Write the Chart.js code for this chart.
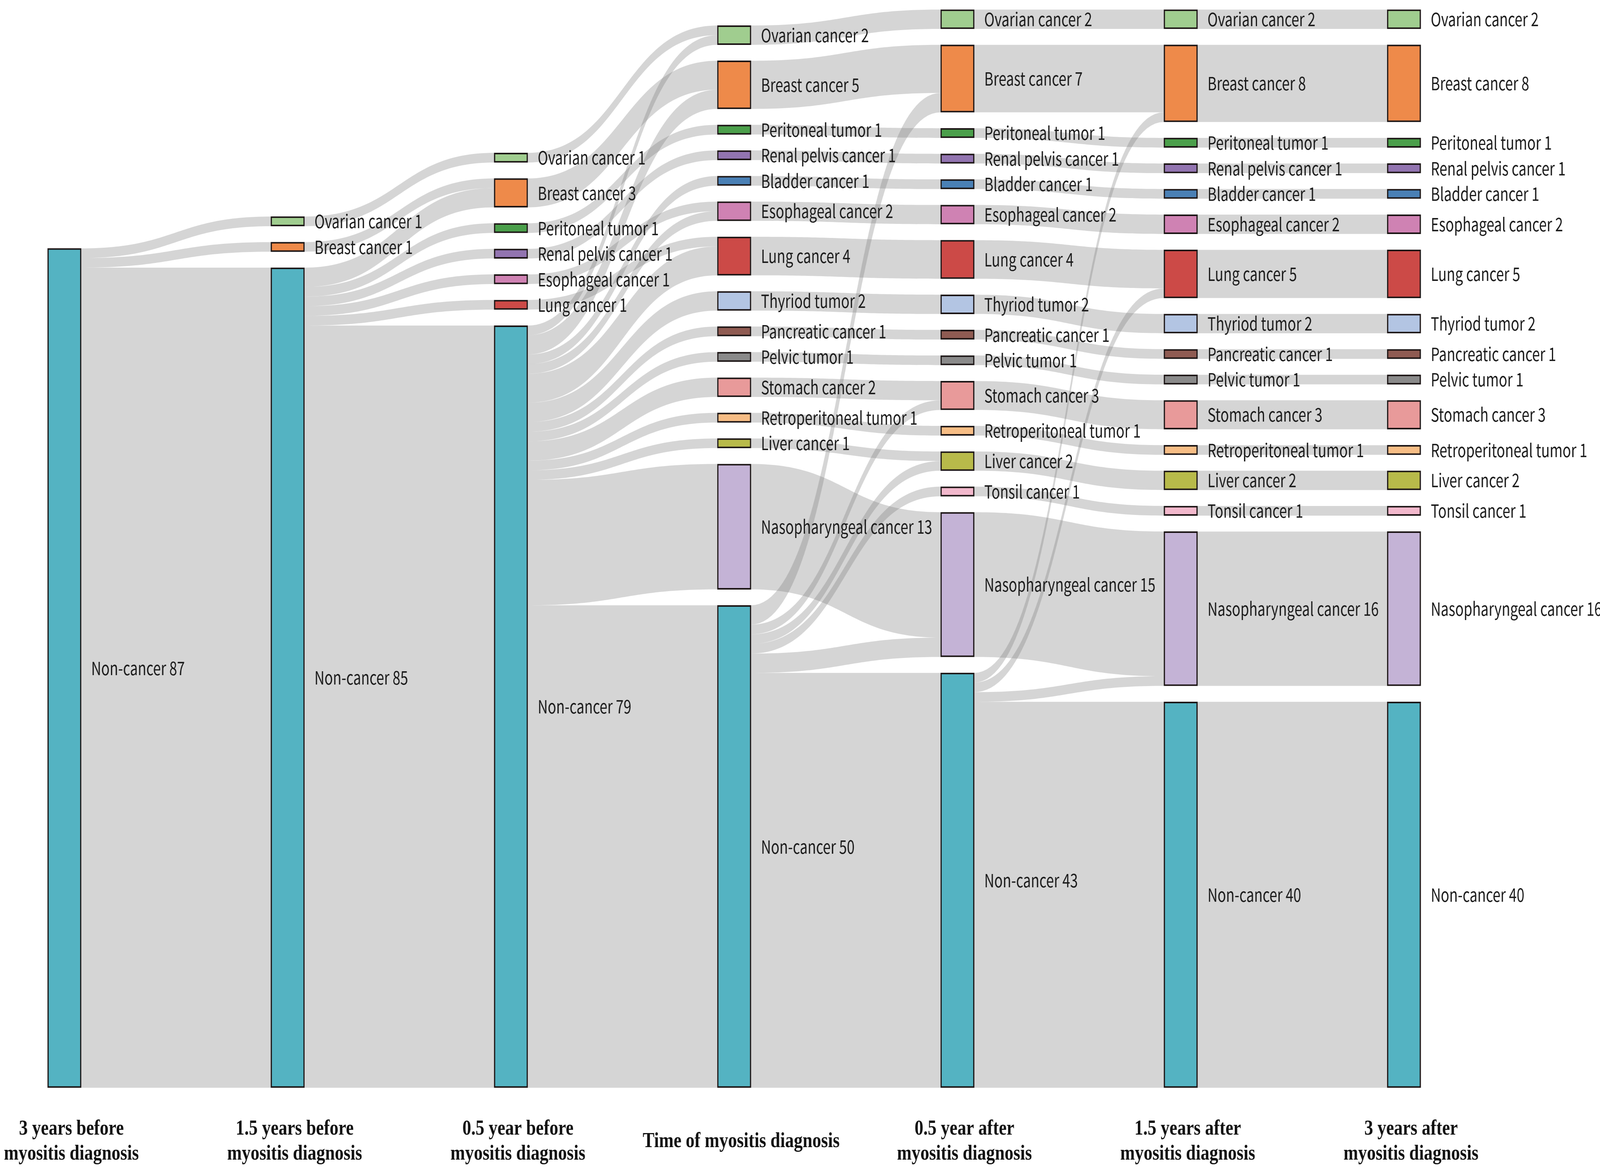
<!DOCTYPE html>
<html>
<head>
<meta charset="utf-8">
<script src="https://cdn.jsdelivr.net/npm/chart.js@4.4.1/dist/chart.umd.min.js"></script>
<style>
  html, body { margin: 0; padding: 0; background: #fff; overflow: hidden; }
</style>
</head>
<body>
<!-- drawn at 5020 x 2992, shown at whatever size the window is -->
<canvas id="sankey" width="5020" height="2992" style="display:block;width:100vw;height:100vh"></canvas>
<script>
// time points (bottom titles)
const stages = [
  ['3 years before', 'myositis diagnosis'],
  ['1.5 years before', 'myositis diagnosis'],
  ['0.5 year before', 'myositis diagnosis'],
  'Time of myositis diagnosis',
  ['0.5 year after', 'myositis diagnosis'],
  ['1.5 years after', 'myositis diagnosis'],
  ['3 years after', 'myositis diagnosis']
];

const categories = [
  'Ovarian cancer', 'Breast cancer', 'Peritoneal tumor', 'Renal pelvis cancer',
  'Bladder cancer', 'Esophageal cancer', 'Lung cancer', 'Thyriod tumor',
  'Pancreatic cancer', 'Pelvic tumor', 'Stomach cancer', 'Retroperitoneal tumor',
  'Liver cancer', 'Tonsil cancer', 'Nasopharyngeal cancer', 'Non-cancer'
];

// patients per category at each time point
const ovarian         = [0, 1, 1, 2, 2, 2, 2];
const breast          = [0, 1, 3, 5, 7, 8, 8];
const peritoneal      = [0, 0, 1, 1, 1, 1, 1];
const renalPelvis     = [0, 0, 1, 1, 1, 1, 1];
const bladder         = [0, 0, 0, 1, 1, 1, 1];
const esophageal      = [0, 0, 1, 2, 2, 2, 2];
const lung            = [0, 0, 1, 4, 4, 5, 5];
const thyroid         = [0, 0, 0, 2, 2, 2, 2];
const pancreatic      = [0, 0, 0, 1, 1, 1, 1];
const pelvic          = [0, 0, 0, 1, 1, 1, 1];
const stomach         = [0, 0, 0, 2, 3, 3, 3];
const retroperitoneal = [0, 0, 0, 1, 1, 1, 1];
const liver           = [0, 0, 0, 1, 2, 2, 2];
const tonsil          = [0, 0, 0, 0, 1, 1, 1];
const nasopharyngeal  = [0, 0, 0, 13, 15, 16, 16];
const nonCancer       = [87, 85, 79, 50, 43, 40, 40];

const counts = [ovarian, breast, peritoneal, renalPelvis, bladder, esophageal, lung, thyroid,
  pancreatic, pelvic, stomach, retroperitoneal, liver, tonsil, nasopharyngeal, nonCancer];

const colors = [
  '#a0cd8f', '#ee8a4a', '#4b9f4b', '#9274b0', '#4a80b5', '#cf82b3', '#cc4a47', '#b3c5e3',
  '#8f5b52', '#8a8a8a', '#e89a9a', '#f7bd85', '#b8ba4a', '#f2b8cc', '#c4b3d6', '#54b3c2'
];

// stack nodes from the bottom of each column, Non-cancer lowest
const GAP = 1.65;
const nodes = categories.map(() => []);
stages.forEach((_, k) => {
  let y = 0;
  for (let i = categories.length - 1; i >= 0; i--) {
    const n = counts[i][k];
    if (n > 0) {
      nodes[i][k] = [y, y + n];
      y += n + GAP;
    }
  }
});

// cancers carry over, new cases come out of Non-cancer
const NON = categories.length - 1;
const links = [];
for (let k = 0; k < stages.length - 1; k++) {
  for (let i = 0; i < NON; i++) {
    if (counts[i][k] > 0) links.push({ k, s: i, t: i, v: counts[i][k] });
    const fresh = counts[i][k + 1] - counts[i][k];
    if (fresh > 0) links.push({ k, s: NON, t: i, v: fresh });
  }
  links.push({ k, s: NON, t: NON, v: counts[NON][k + 1] });
}

const outUsed = {}, inUsed = {};
links.forEach(l => {
  const sk = l.s + ':' + l.k, tk = l.t + ':' + (l.k + 1);
  const so = outUsed[sk] || 0, to = inUsed[tk] || 0;
  const sTop = nodes[l.s][l.k][1] - so;
  const tTop = nodes[l.t][l.k + 1][1] - to;
  l.y0 = [sTop, sTop - l.v];
  l.y1 = [tTop, tTop - l.v];
  outUsed[sk] = so + l.v;
  inUsed[tk] = to + l.v;
});

const flowPlugin = {
  id: 'flows',
  beforeDatasetsDraw(chart) {
    const { ctx, scales: { y } } = chart;
    ctx.save();
    ctx.fillStyle = 'rgba(120,120,120,0.31)';
    links.forEach(l => {
      const a = chart.getDatasetMeta(l.s).data[l.k];
      const b = chart.getDatasetMeta(l.t).data[l.k + 1];
      const x0 = a.x + a.width / 2, x1 = b.x - b.width / 2, xm = (x0 + x1) / 2;
      const s0 = y.getPixelForValue(l.y0[0]), s1 = y.getPixelForValue(l.y0[1]);
      const t0 = y.getPixelForValue(l.y1[0]), t1 = y.getPixelForValue(l.y1[1]);
      ctx.beginPath();
      ctx.moveTo(x0, s0);
      ctx.bezierCurveTo(xm, s0, xm, t0, x1, t0);
      ctx.lineTo(x1, t1);
      ctx.bezierCurveTo(xm, t1, xm, s1, x0, s1);
      ctx.closePath();
      ctx.fill();
    });
    ctx.restore();
  }
};

// node name + count to the right of each bar (font squeezed a little, like the original)
const labelPlugin = {
  id: 'nodeLabels',
  afterDatasetsDraw(chart) {
    const { ctx } = chart;
    ctx.save();
    ctx.font = '47px "Noto Sans CJK KR", "Noto Sans", sans-serif';
    ctx.fillStyle = '#1a1a1a';
    ctx.textAlign = 'left';
    ctx.textBaseline = 'middle';
    categories.forEach((name, i) => {
      chart.getDatasetMeta(i).data.forEach((el, k) => {
        if (!nodes[i][k]) return;
        ctx.save();
        ctx.translate(el.x + el.width / 2 + 31, (el.y + el.base) / 2);
        ctx.scale(0.93, 1);
        ctx.fillText(name + ' ' + counts[i][k], 0, 0);
        ctx.restore();
      });
    });
    ctx.restore();
  }
};

new Chart(document.getElementById('sankey'), {
  type: 'bar',
  data: {
    labels: stages,
    datasets: categories.map((name, i) => ({
      label: name,
      data: stages.map((_, k) => nodes[i][k] || null),
      backgroundColor: colors[i],
      borderColor: '#1c1515',
      borderWidth: 4,
      borderSkipped: false,
      barThickness: 106,
      grouped: false,
      clip: false
    }))
  },
  options: {
    responsive: false,
    devicePixelRatio: 1,
    animation: false,
    layout: { padding: { left: 202, right: 615, top: 6, bottom: 6 } },
    plugins: {
      legend: { display: false },
      tooltip: { enabled: false }
    },
    scales: {
      x: {
        offset: false,
        grid: { display: false, drawTicks: false },
        border: { display: false },
        // keep the plot edges on the first / last column, fixed title band height
        afterFit(scale) {
          scale.paddingLeft = 0;
          scale.paddingRight = 0;
          scale.height = 202;
        },
        ticks: {
          autoSkip: false,
          maxRotation: 0,
          padding: 106,
          labelOffset: 22,
          crossAlign: 'center',
          color: '#111',
          font: { family: '"Liberation Serif", "Times New Roman", serif', size: 55, weight: 'bold', lineHeight: 1.16 }
        }
      },
      y: { display: false, min: 0, max: 112.5 }
    }
  },
  plugins: [flowPlugin, labelPlugin]
});
</script>
</body>
</html>
